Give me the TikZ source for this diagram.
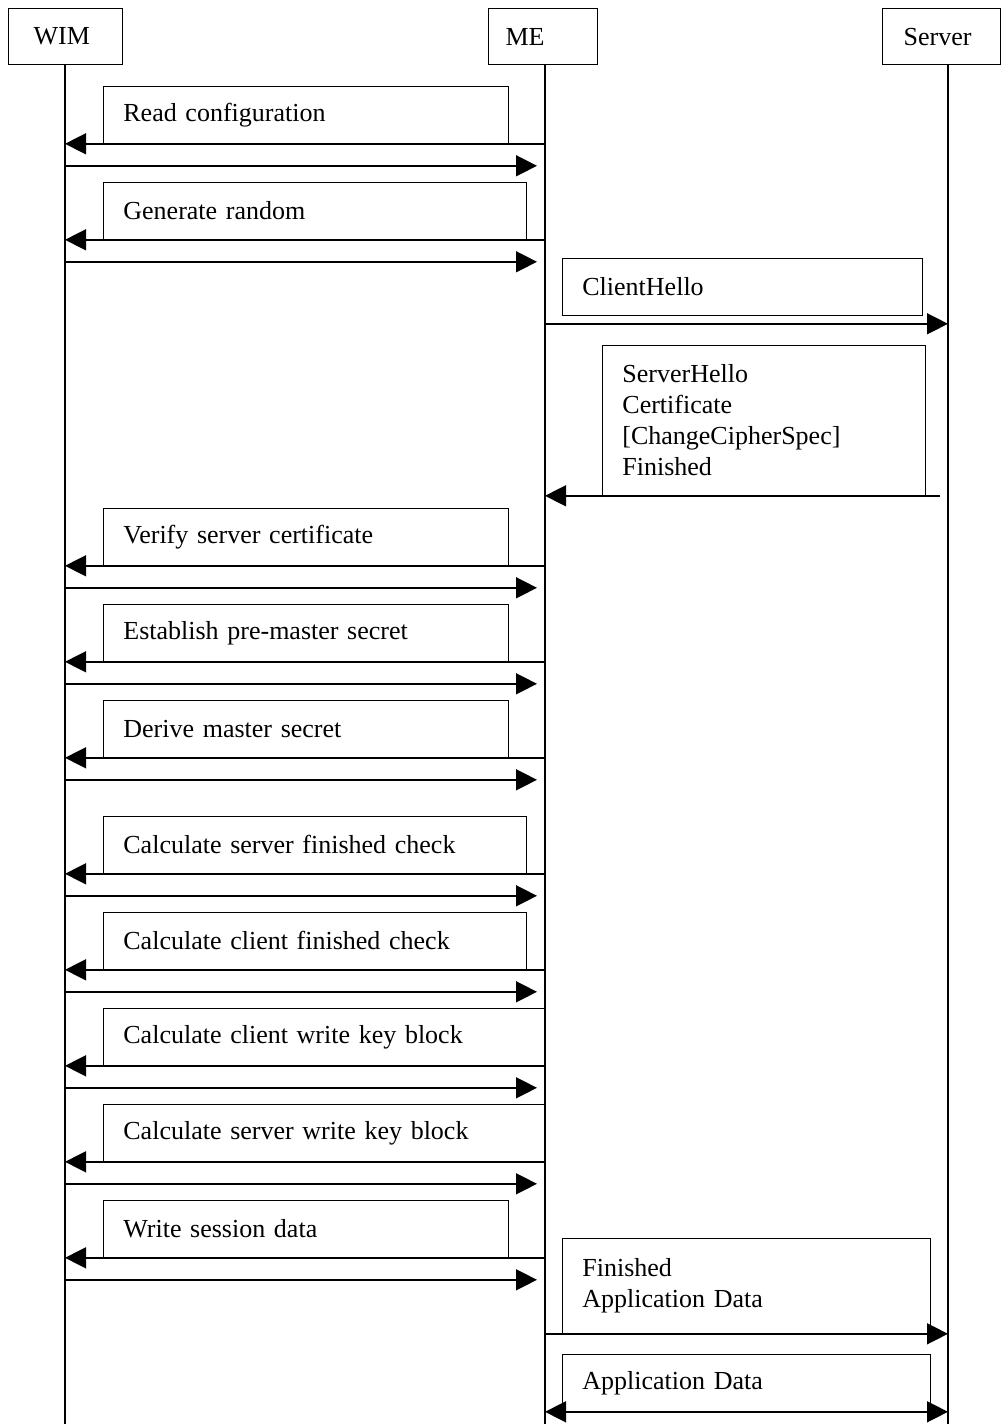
\documentclass[tikz,border=0pt]{standalone}
\usepackage{fontspec}
\setmainfont{Liberation Serif}
\usetikzlibrary{arrows.meta,positioning}

\begin{document}
\begin{tikzpicture}[x=1pt,y=-1pt,>={Triangle[length=21pt,width=21pt]},
	font=\fontsize{26}{31}\selectfont]
	\tikzstyle{actor}=[draw,line width=1.2pt,anchor=north west,minimum height=56pt,align=left]
	\tikzstyle{msgbox}=[draw,line width=0.8pt,anchor=north west,minimum height=57pt,inner xsep=20pt,align=left]
	\tikzstyle{life}=[line width=1.6pt]
	\tikzstyle{call}=[->,line width=1.5pt]
	\tikzstyle{ret}=[->,line width=1.5pt,shorten >=8pt]
	\useasboundingbox (0,0) rectangle (1008,1424);
	
	\node[actor,inner xsep=25pt,text width=64pt] (wim) at (8,8) {WIM};
	\node[actor,inner xsep=17pt,text width=75pt] (me) at (488,8) {ME};
	\node[actor,inner xsep=21pt,text width=76pt] (srv) at (882,8) {Server};
	
	% lifelines
	\coordinate (w) at (65,1424);
	\coordinate (e) at (545,1424);
	\coordinate (s) at (948,1424);
	\draw[life] (w |- wim.south) -- (w);
	\draw[life] (e |- me.south) -- (e);
	\draw[life] (s |- srv.south) -- (s);
	
	% WIM <-> ME
	\foreach \t/\r/\txt [count=\i] in {86/508/Read configuration, 182/526/Generate random,
		508/508/Verify server certificate, 604/508/Establish pre-master secret,
		700/508/Derive master secret, 816/526/Calculate server finished check,
		912/526/Calculate client finished check, 1008/545/Calculate client write key block,
		1104/545/Calculate server write key block, 1200/508/Write session data}{
		\pgfmathsetmacro\tw{\r-143}
		\node[msgbox,text width=\tw pt] (m\i) at (103,\t) {\txt};
		\path (m\i.south) ++(0,22) coordinate (r\i);
		\draw[call] (m\i.south -| e) -- (m\i.south -| w);
		\draw[ret] (r\i -| w) -- (r\i -| e);
	}
	
	% ME <-> Server
	\node[msgbox,text width=320pt] (ch) at (562,258) {ClientHello};
	\node[msgbox,text width=283pt,minimum height=150pt] (sh) at (602,345)
		{ServerHello\\Certificate\\{[ChangeCipherSpec]}\\Finished};
	\node[msgbox,text width=328pt,minimum height=95pt] (fin) at (562,1238)
		{Finished\\Application Data};
	\node[msgbox,text width=328pt] (ad) at (562,1354) {Application Data};
	
	\path (ch.south) ++(0,8) coordinate (a1);
	\draw[call] (a1 -| e) -- (a1 -| s);
	\draw[call,shorten <=8pt] (sh.south -| s) -- (sh.south -| e);
	\draw[call] (fin.south -| e) -- (fin.south -| s);
	\draw[<->,line width=1.5pt] (ad.south -| e) -- (ad.south -| s);
\end{tikzpicture}
\end{document}
